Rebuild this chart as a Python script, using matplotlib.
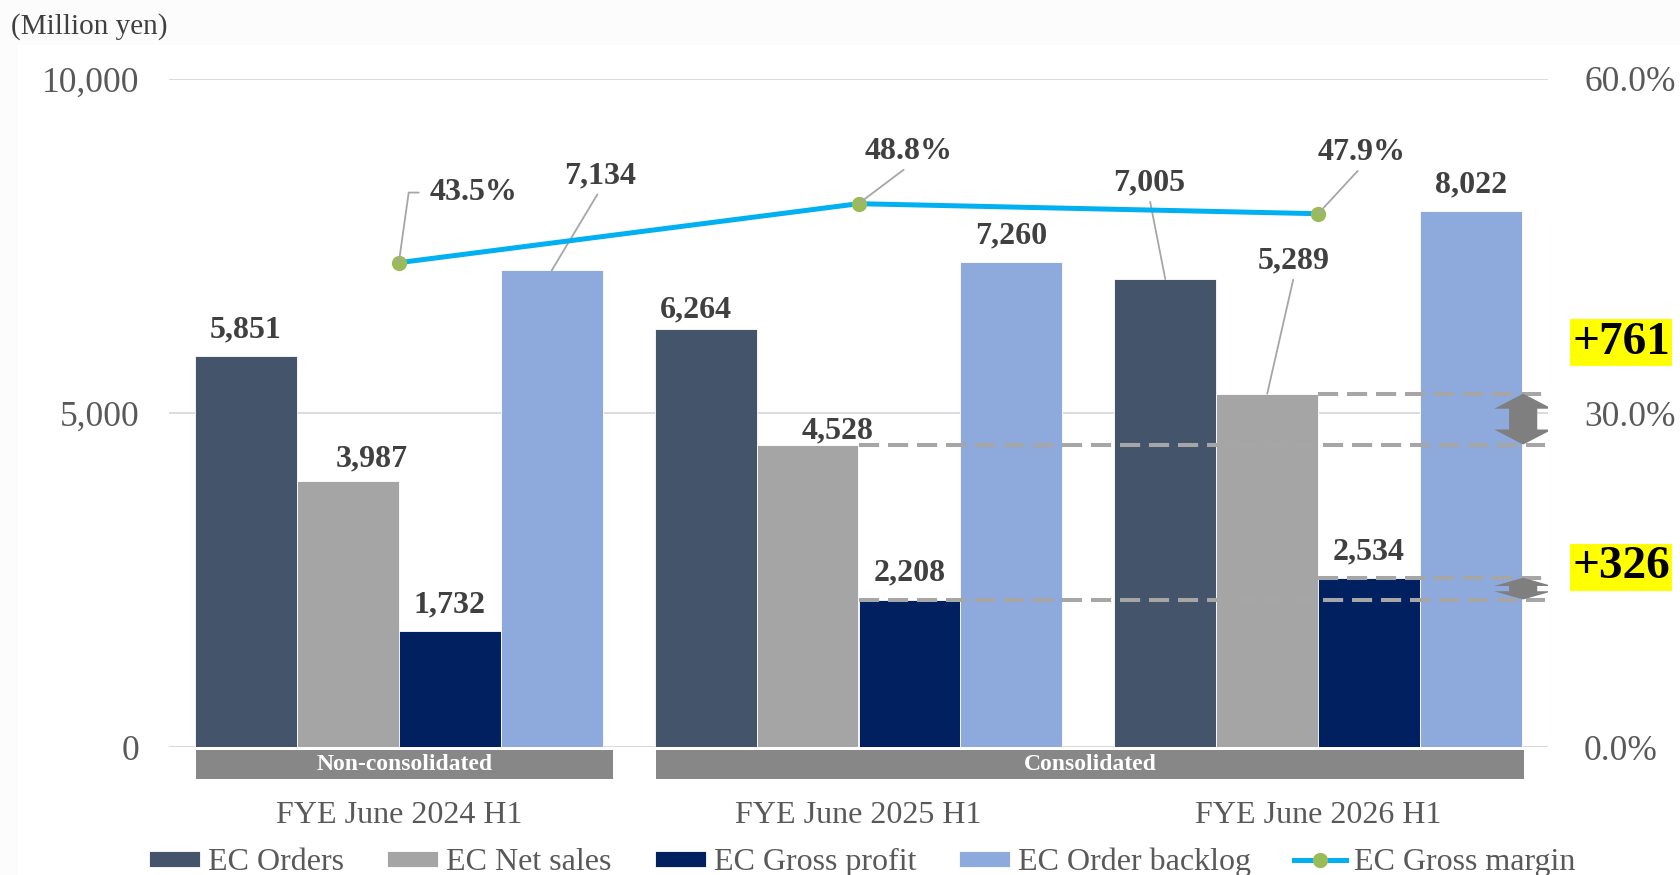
"""EC segment half-year results: orders / net sales / gross profit / backlog
with gross margin on a secondary axis."""

import matplotlib
matplotlib.use('Agg')
import matplotlib.pyplot as plt
import matplotlib.transforms as mtransforms
from matplotlib.patches import Rectangle, Polygon
from matplotlib.ticker import FuncFormatter

plt.rcParams['font.family'] = ['Liberation Serif', 'DejaVu Serif']

# === Data ===
categories = ['FYE June 2024 H1', 'FYE June 2025 H1', 'FYE June 2026 H1']
orders = [5851, 6264, 7005]
net_sales = [3987, 4528, 5289]
gross_profit = [1732, 2208, 2534]
backlog = [7134, 7260, 8022]
gross_margin = [43.5, 48.8, 47.9]

series_names = ['EC Orders', 'EC Net sales', 'EC Gross profit', 'EC Order backlog']
line_name = 'EC Gross margin'
scope_labels = ['Non-consolidated', 'Consolidated']
scope_spans = [(0, 0), (1, 2)]

# === Style ===
COLORS = ['#44546A', '#A5A5A5', '#002060', '#8EA9DB']
LINE_C = '#00B0F0'
MARK_C = '#9BBB59'
LABEL_C = '#404040'
TICK_C = '#595959'
GRID_C = '#D9D9D9'
LEADER_C = '#A6A6A6'

W = 0.2217  # bar width (category spacing = 1)

# label offsets in points (dx, dy); leader lines drawn for the ones in `leader_labels`
bar_label_off = {(3, 0): (34.6, 68), (0, 2): (-11.5, 69), (1, 2): (19.4, 95.5),
                 (0, 1): (-7, 13.5), (1, 0): (17, 15.5), (1, 1): (22, 9.5)}
leader_labels = {(3, 0), (0, 2), (1, 2)}
margin_label_off = [(54, 50.5), (36, 37.5), (31, 44)]
DEFAULT_OFF = (0, 18.8)
band_pad = [0.022, 0.004]

fig = plt.figure(figsize=(16.8, 8.75), dpi=100, facecolor='#FCFCFC')
fig.patches.append(Rectangle((18 / 1680, 0), 1, 1 - 45 / 875, transform=fig.transFigure,
                             facecolor='white', edgecolor='none', zorder=-10))
ax = fig.add_axes([169 / 1680, 1 - 747 / 875, 1379 / 1680, 668 / 875])
ax.set_facecolor('none')
ax2 = ax.twinx()

x = list(range(len(categories)))
data = [orders, net_sales, gross_profit, backlog]
offsets = [-1.5, -0.5, 0.5, 1.5]

for s, (vals, name, col) in enumerate(zip(data, series_names, COLORS)):
    xs = [xi + offsets[s] * W for xi in x]
    ax.bar(xs, vals, width=W, color=col, edgecolor='white', linewidth=0.6, label=name, zorder=3)
    for i, (xi, v) in enumerate(zip(xs, vals)):
        dx, dy = bar_label_off.get((s, i), DEFAULT_OFF)
        arrow = None
        if (s, i) in leader_labels:
            arrow = dict(arrowstyle='-', color=LEADER_C, lw=1.3, shrinkA=1, shrinkB=0, relpos=(0.5, 0))
        ax.annotate(f'{v:,}', xy=(xi, v), xytext=(dx, dy), textcoords='offset points',
                    ha='center', va='center', fontsize=23, fontweight='bold', color=LABEL_C,
                    arrowprops=arrow, zorder=8)

ax.set_xlim(-0.5, 2.5)
ax.set_ylim(0, 10000)
ax.set_yticks([0, 5000, 10000])
ax.yaxis.set_major_formatter(FuncFormatter(lambda v, p: f'{v:,.0f}'))
ax.grid(axis='y', color=GRID_C, lw=1.3, zorder=0)
ax.set_axisbelow(True)
ax.axhline(0, color=GRID_C, lw=1.5, zorder=1)
ax.set_xticks([])
ax.tick_params(axis='y', length=0, pad=21, labelsize=25.5, labelcolor=TICK_C)
for sp in ax.spines.values():
    sp.set_visible(False)

# gross margin line
ax2.plot(x, [m / 100 for m in gross_margin], color=LINE_C, lw=3.6, marker='o',
         markersize=10, markerfacecolor=MARK_C, markeredgecolor=MARK_C, label=line_name, zorder=5)
for i, m in enumerate(gross_margin):
    dx, dy = margin_label_off[i]
    if i == 0:
        arrow = dict(arrowstyle='-', color=LEADER_C, lw=1.3, shrinkA=6, shrinkB=0, relpos=(0, 0.5),
                     connectionstyle='angle,angleA=180,angleB=82,rad=0')
    else:
        arrow = dict(arrowstyle='-', color=LEADER_C, lw=1.3, shrinkA=1, shrinkB=0, relpos=(0.5, 0))
    ax2.annotate(f'{m:.1f}%', xy=(i, m / 100), xytext=(dx, dy), textcoords='offset points',
                 ha='center', va='center', fontsize=23, fontweight='bold', color=LABEL_C,
                 arrowprops=arrow, zorder=6)
ax2.set_ylim(0, 0.6)
ax2.set_yticks([0, 0.3, 0.6])
ax2.yaxis.set_major_formatter(FuncFormatter(lambda v, p: f'{v:.1%}'))
ax2.tick_params(axis='y', length=0, pad=26, labelsize=25.5, labelcolor=TICK_C)
for sp in ax2.spines.values():
    sp.set_visible(False)

# year-on-year comparison: dashed guides and double arrows
blend = mtransforms.blended_transform_factory(ax.transAxes, ax.transData)


def double_arrow(ax, xc, y_lo, y_hi, head_w=0.021, shaft_w=0.0102, head_len=225):
    hl = min(head_len, 0.38 * (y_hi - y_lo))
    xs = [xc, xc + head_w, xc + shaft_w, xc + shaft_w, xc + head_w,
          xc, xc - head_w, xc - shaft_w, xc - shaft_w, xc - head_w]
    ys = [y_hi, y_hi - hl, y_hi - hl, y_lo + hl, y_lo + hl,
          y_lo, y_lo + hl, y_lo + hl, y_hi - hl, y_hi - hl]
    ax.add_patch(Polygon(list(zip(xs, ys)), closed=True, transform=blend,
                         facecolor='#7F7F7F', edgecolor='none', zorder=7))


for vals, ypos in [(net_sales, 0.605), (gross_profit, 0.269)]:
    for i in (1, 2):
        ax.plot([x[i], 2.493], [vals[i], vals[i]], color=LEADER_C, lw=2.9,
                linestyle=(0, (5, 2.2)), zorder=6, solid_capstyle='butt', dash_capstyle='butt')
    double_arrow(ax, 0.982, vals[1], vals[2])
    ax.text(1.053, ypos, f'+{vals[2] - vals[1]:,}', transform=ax.transAxes, ha='center', va='center',
            fontsize=34, fontweight='bold', color='black',
            bbox=dict(facecolor='#FFFF00', edgecolor='none', pad=1.6))

# scope bands below the axis
band_tf = mtransforms.blended_transform_factory(ax.transData, ax.transAxes)
for lab, (a, b), pad in zip(scope_labels, scope_spans, band_pad):
    x0 = x[a] - 2 * W + 0.003
    x1 = x[b] + 2 * W + pad
    ax.add_patch(Rectangle((x0, -0.048), x1 - x0, 0.0435, transform=band_tf,
                           facecolor='#878787', edgecolor='none', clip_on=False))
    ax.text((x0 + x1) / 2, -0.026, lab, transform=band_tf, ha='center', va='center',
            fontsize=17, fontweight='bold', color='white')

for xi, cat in zip(x, categories):
    ax.text(xi, -0.1025, cat, transform=band_tf, ha='center', va='center',
            fontsize=23, color=TICK_C)

fig.text(11 / 1680, 1 - 27 / 875, '(Million yen)', ha='left', va='center', fontsize=21, color=LABEL_C)

h1, l1 = ax.get_legend_handles_labels()
h2, l2 = ax2.get_legend_handles_labels()
fig.legend(h1 + h2, l1 + l2, loc='center', bbox_to_anchor=(0.513, 0.0143), ncol=5,
           frameon=False, fontsize=23, labelcolor=TICK_C, handlelength=1.6, handleheight=0.4,
           handletextpad=0.25, columnspacing=1.35, borderaxespad=0, borderpad=0)

plt.savefig('out.png', dpi=100, facecolor=fig.get_facecolor())
